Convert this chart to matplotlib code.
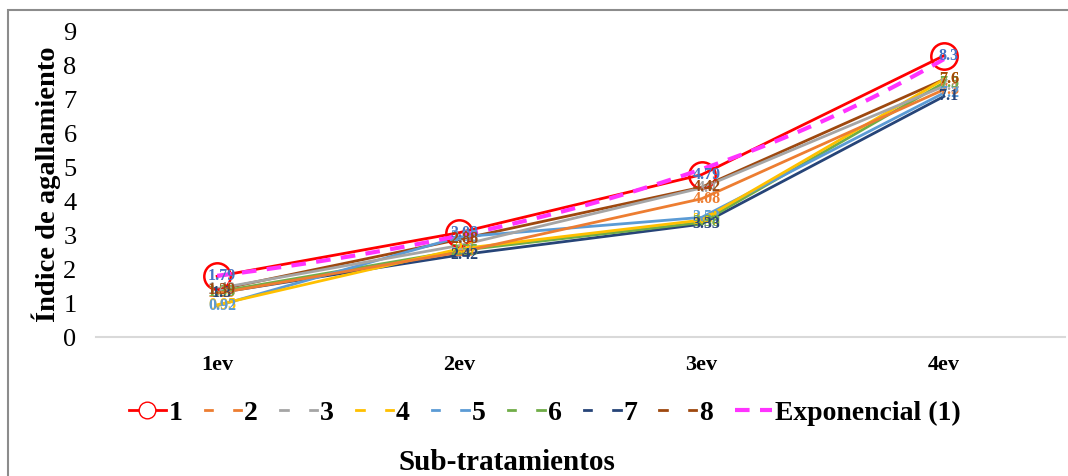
import matplotlib.pyplot as plt
import numpy as np
from matplotlib.lines import Line2D
from matplotlib.patches import Rectangle

plt.rcParams['font.family'] = ['Liberation Serif', 'DejaVu Serif']

evaluaciones = ["1ev", "2ev", "3ev", "4ev"]
nombres = ["1", "2", "3", "4", "5", "6", "7", "8"]

s1 = [1.79, 3.08, 4.79, 8.3]
s2 = [1.29, 2.50, 4.08, 7.3]
s3 = [1.43, 2.70, 4.40, 7.4]
s4 = [0.95, 2.60, 3.45, 7.6]
s5 = [0.92, 2.95, 3.53, 7.2]
s6 = [1.33, 2.55, 3.38, 7.5]
s7 = [1.30, 2.42, 3.33, 7.1]
s8 = [1.39, 2.88, 4.42, 7.6]
series = [s1, s2, s3, s4, s5, s6, s7, s8]

colores = ["#FF0000", "#ED7D31", "#A5A5A5", "#FFC000",
           "#5B9BD5", "#70AD47", "#264478", "#9E480E"]
colores_etiqueta = ["#4472C4", "#ED7D31", "#A5A5A5", "#FFC000",
                    "#5B9BD5", "#70AD47", "#264478", "#9E480E"]

fig = plt.figure(figsize=(10.68, 4.76), dpi=100)
ax = fig.add_axes([96 / 1068, 1 - 337 / 476, 969 / 1068, 305 / 476])

x = np.arange(1, 5)

# series 2..8 first, series 1 on top
for i in range(7, 0, -1):
    ax.plot(x, series[i], color=colores[i], lw=2, zorder=2 + (7 - i) * 0.01)
ax.plot(x, s1, color=colores[0], lw=2, marker="o", markersize=19,
        markerfacecolor="none", markeredgecolor="#FF0000", markeredgewidth=1.8,
        zorder=3)

# exponential trend of series 1
b, ln_a = np.polyfit(x, np.log(s1), 1)
xt = np.linspace(1, 4, 100)
ax.plot(xt, np.exp(ln_a) * np.exp(b * xt), color="#FF33FF", lw=3,
        dashes=(3.5, 2.5), zorder=4)

# value labels, later series drawn over earlier ones
for i in range(8):
    for xi, v in zip(x, series[i]):
        ax.text(xi + 0.02, v, f"{v:g}", ha="center", va="center",
                fontsize=11.5, fontweight="bold", color=colores_etiqueta[i],
                zorder=5 + i * 0.01)

ax.set_xlim(0.5, 4.5)
ax.set_ylim(0, 9)
ax.set_yticks(range(0, 10))
ax.set_xticks(x)
ax.set_xticklabels(evaluaciones, fontweight="bold", fontsize=16)
ax.tick_params(axis="y", labelsize=19, length=0, pad=14)
ax.tick_params(axis="x", length=0, pad=13)
for lado in ["top", "right", "left"]:
    ax.spines[lado].set_visible(False)
ax.spines["bottom"].set_color("#D9D9D9")
ax.spines["bottom"].set_linewidth(1.5)
ax.set_ylabel("Índice de agallamiento", fontsize=20.5, fontweight="bold",
              labelpad=2)

# legend
handles = [Line2D([], [], color=colores[0], lw=2, marker="o", markersize=12,
                  markerfacecolor="white", markeredgecolor="#FF0000")]
for c in colores[1:]:
    handles.append(Line2D([], [], color=c, lw=2, marker="s", markersize=13,
                          markerfacecolor="white", markeredgecolor="white"))
handles.append(Line2D([], [], color="#FF33FF", lw=3, dashes=(3.5, 2.5)))
etiquetas = nombres + ["Exponencial (1)"]
fig.legend(handles, etiquetas, loc="center", bbox_to_anchor=(0.51, 1 - 413 / 476),
           ncol=9, frameon=False, handlelength=1.33, handletextpad=0.1,
           columnspacing=0.8, prop={"weight": "bold", "size": 20})

fig.text(0.475, 1 - 462 / 476, "Sub-tratamientos", ha="center", va="center",
         fontsize=21, fontweight="bold")

fig.patches.append(Rectangle((8 / 1068, -0.1), 1.2, 1 - 10 / 476 + 0.1,
                             transform=fig.transFigure, fill=False,
                             edgecolor="#8C8C8C", lw=1.5))

fig.savefig("out.png", dpi=100)
